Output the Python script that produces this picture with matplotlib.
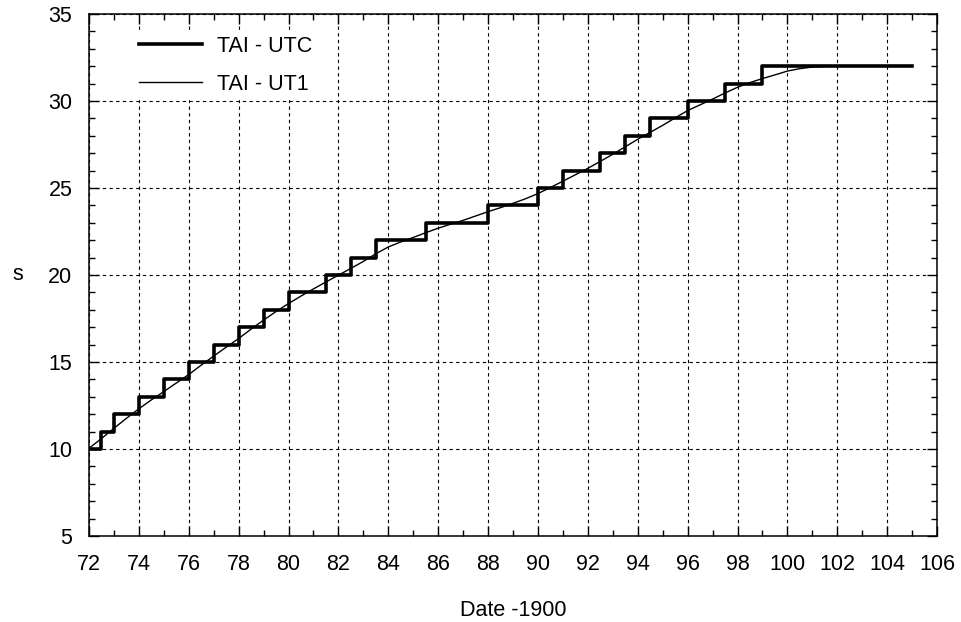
import matplotlib.pyplot as plt
from matplotlib.ticker import MultipleLocator

plt.rcParams['font.family'] = ['Liberation Sans', 'DejaVu Sans']

# TAI - UTC: leap second dates (year - 1900) and value after each step
leap_dates = [72.0, 72.5, 73, 74, 75, 76, 77, 78, 79, 80, 81.5, 82.5, 83.5,
              85.5, 88, 90, 91, 92.5, 93.5, 94.5, 96, 97.5, 99, 105]
tai_utc = [10, 11, 12, 13, 14, 15, 16, 17, 18, 19, 20, 21, 22,
           23, 24, 25, 26, 27, 28, 29, 30, 31, 32, 32]

# TAI - UT1
ut1_dates = [72.0, 72.5, 73, 73.5, 74, 74.5, 75, 75.5, 76, 76.5, 77, 77.5,
             78, 78.5, 79, 79.5, 80, 80.5, 81, 81.5, 82, 82.5, 83, 83.5,
             84, 84.5, 85, 85.5, 86, 86.5, 87, 87.5, 88, 88.5, 89, 89.5,
             90, 90.5, 91, 91.5, 92, 92.5, 93, 93.5, 94, 94.5, 95, 95.5,
             96, 96.5, 97, 97.5, 98, 98.5, 99, 99.5, 100, 100.5, 101, 101.5,
             102, 105]
tai_ut1 = [10.04, 10.6, 11.19, 11.76, 12.31, 12.82, 13.30, 13.79, 14.28, 14.82,
           15.34, 15.85, 16.35, 16.89, 17.41, 17.90, 18.36, 18.79, 19.20, 19.60,
           19.99, 20.38, 20.78, 21.22, 21.61, 21.90, 22.16, 22.43, 22.69, 22.92,
           23.14, 23.39, 23.64, 23.87, 24.12, 24.38, 24.68, 25.03, 25.39, 25.76,
           26.13, 26.53, 26.94, 27.37, 27.80, 28.20, 28.60, 29.03, 29.45, 29.78,
           30.11, 30.46, 30.79, 31.06, 31.29, 31.50, 31.72, 31.86, 31.95, 31.99,
           32.0, 32.0]

fig = plt.figure(figsize=(9.61, 6.22), dpi=100)
ax = fig.add_axes([0.0926, 0.1383, 0.8825, 0.8392])

ax.step(leap_dates, tai_utc, where='post', color='black', lw=2.6, label='TAI - UTC')
ax.plot(ut1_dates, tai_ut1, color='black', lw=1.0, label='TAI - UT1')

ax.set_xlim(72, 106)
ax.set_ylim(5, 35)
ax.xaxis.set_major_locator(MultipleLocator(2))
ax.xaxis.set_minor_locator(MultipleLocator(1))
ax.yaxis.set_major_locator(MultipleLocator(5))
ax.yaxis.set_minor_locator(MultipleLocator(1))

ax.grid(True, which='major', color='black', linestyle=(0, (3, 3)), lw=0.8)
ax.tick_params(which='both', direction='in', top=True, right=True, width=1)
ax.tick_params(which='major', length=7, labelsize=15.5)
ax.tick_params(axis='x', which='major', pad=13)
ax.tick_params(axis='y', which='major', pad=12)
ax.tick_params(which='minor', length=4)
for sp in ax.spines.values():
    sp.set_linewidth(1.1)

ax.set_xlabel('Date -1900', fontsize=15.5, labelpad=18)
ax.set_ylabel('s', fontsize=15.5, rotation=0, labelpad=22, va='center')

# white box without border so the grid does not run through the legend
leg = ax.legend(loc='upper left', frameon=True, fancybox=False, fontsize=15.5,
                handlelength=2.9, handletextpad=0.7, borderaxespad=0.8,
                borderpad=0.2, bbox_to_anchor=(0.034, 1.0), labelspacing=0.8)
leg.get_frame().set_facecolor('white')
leg.get_frame().set_edgecolor('white')
leg.get_frame().set_alpha(1)

fig.savefig('out.png', dpi=100)
